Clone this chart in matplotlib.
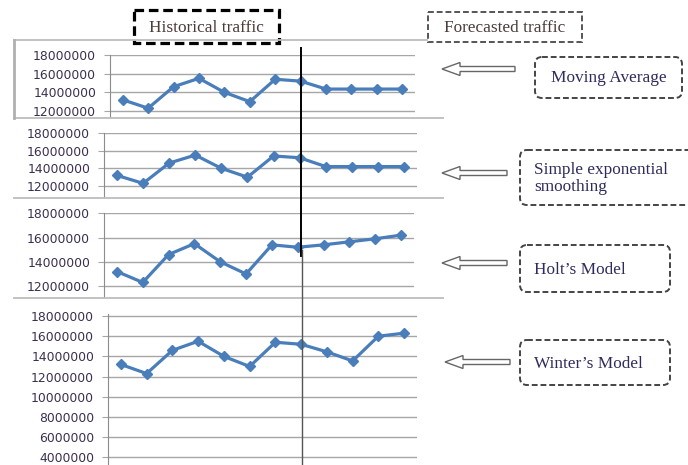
import matplotlib
matplotlib.use("Agg")
import matplotlib.pyplot as plt
from matplotlib.patches import FancyBboxPatch, Rectangle, FancyArrow
from matplotlib.ticker import MultipleLocator, FuncFormatter

# traffic values, in millions
historical = [13.2, 12.3, 14.6, 15.5, 14.0, 13.0, 15.4, 15.2]
forecast_ma = [14.35, 14.35, 14.35, 14.35]
forecast_ses = [14.2, 14.2, 14.2, 14.2]
forecast_holt = [15.4, 15.65, 15.9, 16.2]
forecast_winter = [14.45, 13.55, 16.0, 16.3]
model_names = ["Moving Average", "Simple exponential\nsmoothing", "Holt\u2019s Model", "Winter\u2019s Model"]

W, H = 688, 465
fig = plt.figure(figsize=(W / 100, H / 100), dpi=100)

blue = "#4a7ebb"
grid_c = "#a6a6a6"
tick_c = "#3b2f4f"


def px_axes(left, top, right, bottom):
    return fig.add_axes([left / W, 1 - bottom / H, (right - left) / W, (bottom - top) / H])


def panel(rect, forecast, ymin, ymax, step):
    ax = px_axes(*rect)
    values = historical + forecast
    ax.plot(range(len(values)), [v * 1e6 for v in values], color=blue, lw=2.3,
            marker="D", ms=5.5, mfc=blue, mec=blue)
    ax.set_xlim(-0.5, len(values) - 0.5)
    ax.set_ylim(ymin * 1e6, ymax * 1e6)
    ax.yaxis.set_major_locator(MultipleLocator(step * 1e6))
    ax.yaxis.set_major_formatter(FuncFormatter(lambda v, pos: "{:.0f}".format(v)))
    ax.grid(axis="y", color=grid_c, lw=1)
    ax.set_axisbelow(True)
    for s in ["top", "right", "bottom"]:
        ax.spines[s].set_visible(False)
    ax.spines["left"].set_color("#8c8c8c")
    ax.tick_params(axis="y", length=4, color=grid_c, pad=6, labelsize=8.9, labelcolor=tick_c)
    ax.tick_params(axis="x", bottom=False, labelbottom=False)
    ax.patch.set_alpha(0)
    return ax


ax1 = panel((110, 55, 415, 116.6), forecast_ma, 11.4, 18, 2)
ax2 = panel((104, 133, 417, 197.5), forecast_ses, 10.7, 18, 2)
ax3 = panel((104, 213.3, 414, 297), forecast_holt, 11.1, 18, 2)
ax4 = panel((108, 314, 417, 465.4), forecast_winter, 3.2, 18.2, 2)

# overlay in pixel coordinates
ov = fig.add_axes([0, 0, 1, 1], zorder=5)
ov.set_xlim(0, W)
ov.set_ylim(H, 0)
ov.axis("off")
ov.patch.set_alpha(0)

# panel frame lines
ov.plot([14, 427], [40, 40], color="#bdbdbd", lw=1.3)
for yy in [118, 198, 298]:
    ov.plot([14, 443], [yy, yy], color="#bdbdbd", lw=1.3)
ov.plot([14, 14], [40, 118], color="#b0b0b0", lw=2)

# boundary between historical and forecast, at the last historical point
bx = ov.transData.inverted().transform(ax1.transData.transform((len(historical) - 1, 0)))[0]
ov.plot([bx, bx], [48, 256], color="black", lw=1.4)
ov.plot([bx + 1, bx + 1], [250, 465], color="#555555", lw=1)

txt_c = "#2f2c5c"
top_c = "#4a3c38"
serif = "Liberation Serif"
fs = 12.4

# top labels
ov.add_patch(Rectangle((134, 10), 145, 33, fill=True, fc="white", ec="black", lw=2.3,
                       ls=(0, (3, 1.5))))
ov.text(206.5, 28, "Historical traffic", ha="center", va="center", fontsize=fs,
        family=serif, color=top_c)
ov.add_patch(Rectangle((428, 12), 154, 30, fill=True, fc="white", ec="#555555", lw=1.4,
                       ls=(0, (3, 1.5))))
ov.text(505, 28, "Forecasted traffic", ha="center", va="center", fontsize=fs,
        family=serif, color=top_c)

# model labels with arrows
boxes = [(535, 57, 147, 41), (520, 150, 175, 55), (520, 245, 150, 47), (520, 340, 150, 45)]
arrows = [(515, 69, 73), (507, 173, 65), (507, 263, 65), (510, 362, 65)]
for name, (bxl, byt, bw, bh), (ax_, ay_, al) in zip(model_names, boxes, arrows):
    ov.add_patch(FancyBboxPatch((bxl, byt), bw, bh, boxstyle="round,pad=0,rounding_size=7",
                                fc="white", ec="#444444", lw=1.4, ls=(0, (3, 1.5))))
    if bxl > 530:
        ov.text(bxl + bw / 2, byt + bh / 2 + 1, name, ha="center", va="center",
                fontsize=fs, family=serif, color=txt_c)
    else:
        ov.text(bxl + 14, byt + bh / 2 + 1, name, ha="left", va="center", fontsize=fs,
                family=serif, color=txt_c, linespacing=1.15)
    ov.add_patch(FancyArrow(ax_, ay_, -al, 0, width=5, head_width=13, head_length=18,
                            length_includes_head=True, fc="white", ec="#666666", lw=1))

fig.savefig("out.png", dpi=100)
